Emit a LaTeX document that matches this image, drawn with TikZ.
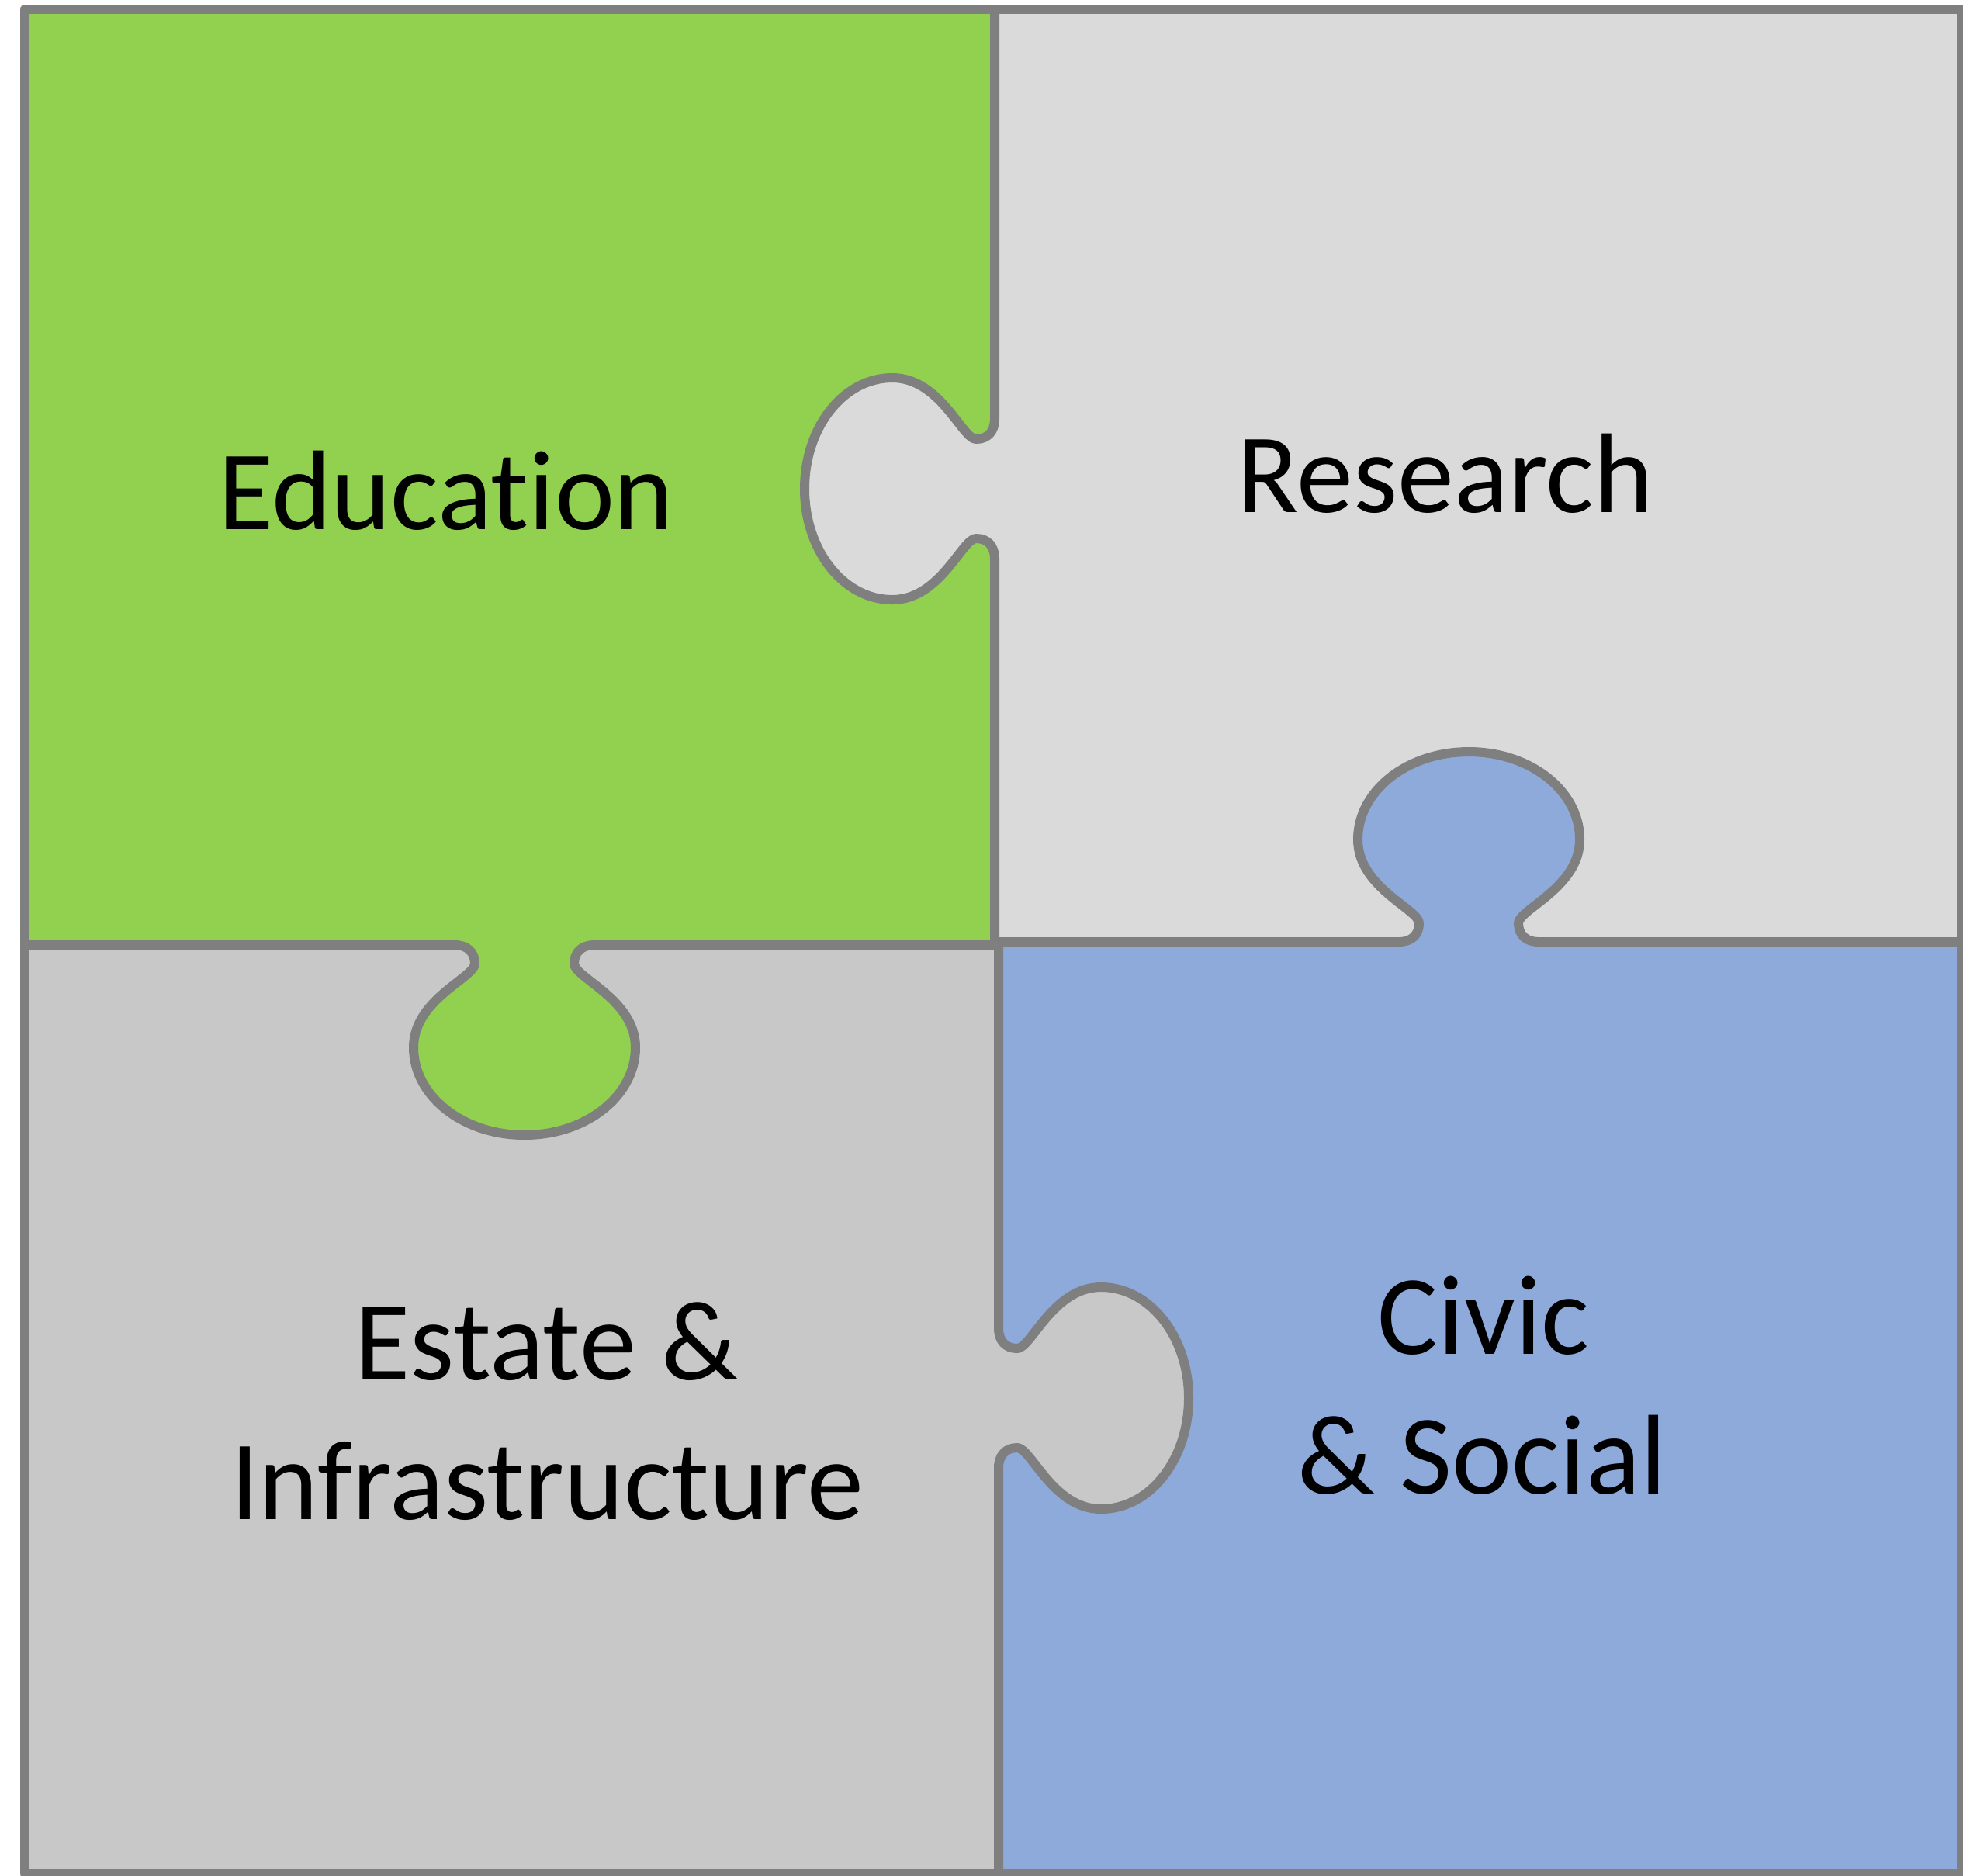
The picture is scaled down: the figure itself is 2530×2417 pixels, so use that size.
\documentclass[tikz,border=0pt]{standalone}
\usepackage{fontspec}
\setmainfont{Carlito}[Ligatures=NoCommon]
\definecolor{edugreen}{HTML}{92D050}
\definecolor{resgrey}{HTML}{DADADA}
\definecolor{estgrey}{HTML}{C8C8C8}
\definecolor{civblue}{HTML}{8EAADB}
\definecolor{edgegrey}{HTML}{7F7F7F}
\tikzset{
 tabpath/.style={insert path={-- (-90,0) .. controls (-74,0) and (-64,9) .. (-64,24) .. controls (-64,42) and (-143,70) .. (-143,132) .. controls (-143,195) and (-79,245) .. (0,245) .. controls (79,245) and (143,195) .. (143,132) .. controls (143,70) and (64,42) .. (64,24) .. controls (64,9) and (74,0) .. (90,0)}},
 seam/.style={draw=edgegrey, line width=2.4pt, line join=round},
 piecetext/.style={font=\fontsize{29.2pt}{36pt}\selectfont, text=black, inner sep=0pt, anchor=base}
}
\begin{document}
\begin{tikzpicture}[x=0.2pt, y=-0.2pt]
\useasboundingbox (0,0) rectangle (2530,2417);
\fill[white] (0,0) rectangle (2530,2417);
% quadrants
\fill[edugreen] (32,12) rectangle (1284,1216);
\fill[resgrey] (1284,12) rectangle (2528,1216);
\fill[estgrey] (32,1216) rectangle (1284,2415);
\fill[civblue] (1284,1216) rectangle (2528,2415);
% tab fills
\begin{scope}[shift={(1282,630)}, x={(0pt,-0.2pt)}, y={(-0.2pt,0pt)}]
 \fill[resgrey] (-90,-8) [tabpath] -- (90,-8) -- cycle;
\end{scope}
\begin{scope}[shift={(1893,1214)}, x={(0.2pt,0pt)}, y={(0pt,0.2pt)}]
 \fill[civblue] (-90,-8) [tabpath] -- (90,-8) -- cycle;
\end{scope}
\begin{scope}[shift={(676,1218)}, x={(0.2pt,0pt)}, y={(0pt,-0.2pt)}]
 \fill[edugreen] (-90,-8) [tabpath] -- (90,-8) -- cycle;
\end{scope}
\begin{scope}[shift={(1287,1802)}, x={(0pt,-0.2pt)}, y={(0.2pt,0pt)}]
 \fill[estgrey] (-90,-8) [tabpath] -- (90,-8) -- cycle;
\end{scope}
% seams
\begin{scope}[shift={(1282,630)}, x={(0pt,-0.2pt)}, y={(-0.2pt,0pt)}]
 \draw[seam] (-618,0) [tabpath] -- (586,0);
\end{scope}
\begin{scope}[shift={(1893,1214)}, x={(0.2pt,0pt)}, y={(0pt,0.2pt)}]
 \draw[seam] (-609,0) [tabpath] -- (642,0);
\end{scope}
\begin{scope}[shift={(676,1218)}, x={(0.2pt,0pt)}, y={(0pt,-0.2pt)}]
 \draw[seam] (-644,0) [tabpath] -- (608,0);
\end{scope}
\begin{scope}[shift={(1287,1802)}, x={(0pt,-0.2pt)}, y={(0.2pt,0pt)}]
 \draw[seam] (-586,0) [tabpath] -- (620,0);
\end{scope}
% outer border
\draw[seam] (32,12) rectangle (2528,2415);
% labels
\node[piecetext] (edu) at (575,682) {Education};
\node[piecetext] (res) at (1863,660) {Research};
\node[piecetext] (est1) at (705,1778) {Estate \&};
\node[piecetext] (est2) at (705,1958) {Infrastructure};
\node[piecetext] (civ1) at (1912,1745) {Civic};
\node[piecetext] (civ2) at (1910,1925) {\& Social};
\end{tikzpicture}
\end{document}
